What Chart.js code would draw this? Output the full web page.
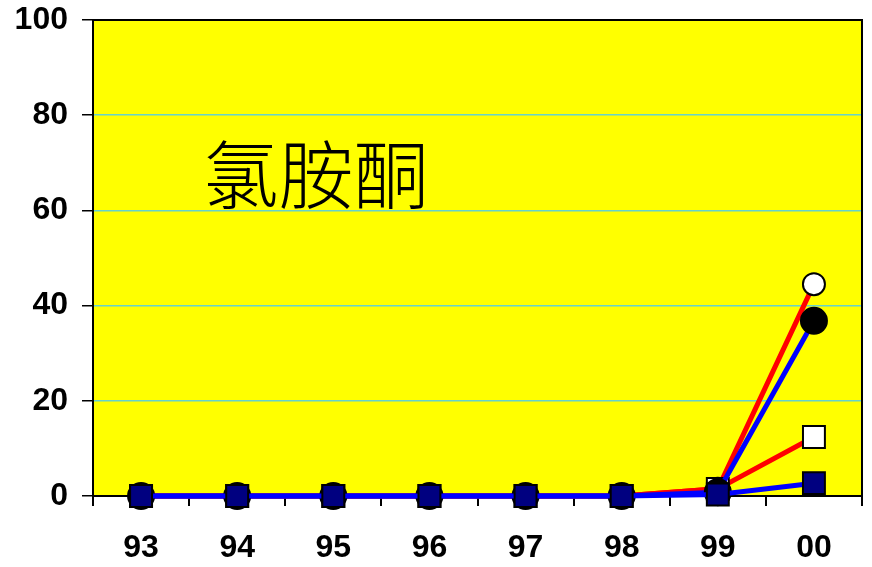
<!DOCTYPE html>
<html>
<head>
<meta charset="utf-8">
<script src="https://cdn.jsdelivr.net/npm/chart.js@4/dist/chart.umd.min.js"></script>
<style>
html,body{margin:0;padding:0;background:#fff;}
#wrap{width:872px;height:567px;}
</style>
</head>
<body>
<div id="wrap"><canvas id="c" width="872" height="567"></canvas></div>
<script>
const categories = ['93','94','95','96','97','98','99','00'];
const redCircle  = [0,0,0,0,0,0,1.5,44.5];
const redSquare  = [0,0,0,0,0,0,1.5,12.4];
const blueCircle = [0,0,0,0,0,0,0.8,36.8];
const blueSquare = [0,0,0,0,0,0,0.3,2.7];
const yTicks = [0,20,40,60,80,100];
const titleText = '氯胺酮';

const plotBg = {
  id:'plotBg',
  beforeDraw(chart){
    const {ctx, chartArea:a} = chart;
    ctx.save();
    ctx.fillStyle = '#ffff00';
    ctx.fillRect(a.left, a.top, a.right-a.left, a.bottom-a.top);
    ctx.restore();
  },
  beforeDatasetsDraw(chart){
    const {ctx, chartArea:a} = chart;
    ctx.save();
    ctx.strokeStyle = '#000';
    ctx.lineWidth = 2;
    ctx.strokeRect(a.left, a.top, a.right-a.left, a.bottom-a.top);
    ctx.fillStyle = '#000';
    ctx.font = "300 75px 'Noto Sans CJK SC'";
    ctx.textAlign = 'center';
    ctx.textBaseline = 'middle';
    const w = a.right - a.left, h = a.bottom - a.top;
    ctx.fillText(titleText, a.left + w*0.29, a.top + h*0.324);
    ctx.restore();
  }
};

function ds(data, color, style, radius, bg, border, order){
  return {
    data, order, borderColor: color, borderWidth: 5, pointStyle: style,
    pointRadius: radius, pointBackgroundColor: bg, pointBorderColor: border,
    pointBorderWidth: 2, pointHoverRadius: radius, tension: 0, clip: false, fill:false
  };
}

new Chart(document.getElementById('c'), {
  type:'line',
  data:{
    labels: categories,
    datasets:[
      ds(redCircle, '#ff0000', 'circle', 11, '#ffffff', '#000000', 4),
      ds(redSquare, '#ff0000', 'rect', 15.5, '#ffffff', '#000000', 3),
      ds(blueCircle, '#0000ff', 'circle', 13, '#000000', '#000000', 2),
      ds(blueSquare, '#0000ff', 'rect', 15.5, '#000080', '#000000', 1)
    ]
  },
  options:{
    responsive:false,
    animation:false,
    events:[],
    layout:{autoPadding:false, padding:{top:20,right:10,left:0,bottom:0}},
    plugins:{legend:{display:false}, tooltip:{enabled:false}},
    scales:{
      x:{
        offset:true,
        grid:{offset:true, drawOnChartArea:false, drawTicks:true, tickLength:10, color:'#000', tickColor:'#000', lineWidth:2},
        border:{display:true, color:'#000', width:2},
        ticks:{color:'#000', font:{family:'Liberation Sans, Arial', size:32, weight:'bold'}, padding:23, maxRotation:0},
        afterFit(s){ s.height = 71; s.paddingLeft = 0; s.paddingRight = 0; }
      },
      y:{
        min:0, max:100,
        afterBuildTicks(s){ s.ticks = yTicks.map(v=>({value:v})); },
        grid:{
          drawTicks:true, tickLength:11,
          color:(c)=> (c.tick && (c.tick.value===0 || c.tick.value===100)) ? 'rgba(0,0,0,0)' : '#66d2cc',
          tickColor:'#000', lineWidth:1.5
        },
        border:{display:true, color:'#000', width:2},
        ticks:{color:'#000', font:{family:'Liberation Sans, Arial', size:32, weight:'bold'}, padding:14},
        afterFit(s){ s.width = 93; s.paddingTop = 0; s.paddingBottom = 0; }
      }
    }
  },
  plugins:[plotBg]
});
</script>
</body>
</html>
